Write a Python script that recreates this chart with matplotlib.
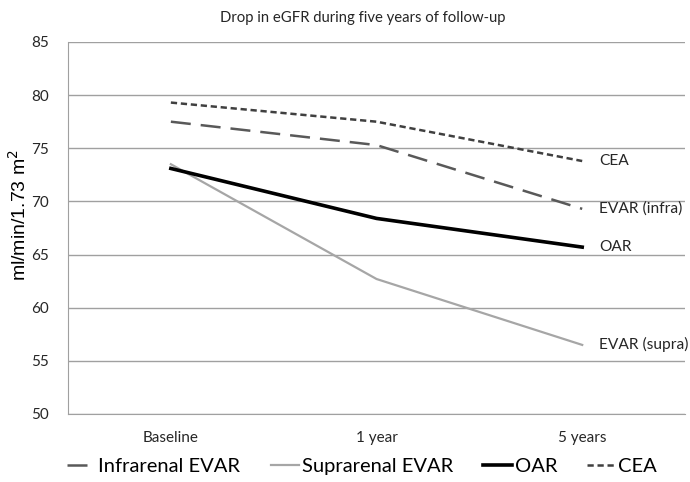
import matplotlib
matplotlib.use("Agg")
import matplotlib.pyplot as plt

plt.rcParams['font.family'] = ['Lato', 'DejaVu Sans']

# data
timepoints = ['Baseline', '1 year', '5 years']
infra_evar = [77.5, 75.3, 69.3]
supra_evar = [73.5, 62.7, 56.5]
oar = [73.1, 68.4, 65.7]
cea = [79.3, 77.5, 73.8]
end_labels = ['EVAR (infra)', 'EVAR (supra)', 'OAR', 'CEA']
legend_names = ['Infrarenal EVAR', 'Suprarenal EVAR', 'OAR', 'CEA']
yticks = [50, 55, 60, 65, 70, 75, 80, 85]

fig = plt.figure(figsize=(6.9, 4.82), dpi=100)
ax = fig.add_axes([0.0986, 0.1411, 0.8942, 0.7718])

x = list(range(len(timepoints)))
l1, = ax.plot(x, infra_evar, color='#595959', lw=1.8, dashes=(8, 4))
l2, = ax.plot(x, supra_evar, color='#a6a6a6', lw=1.6)
l3, = ax.plot(x, oar, color='black', lw=2.6)
l4, = ax.plot(x, cea, color='#404040', lw=1.8, dashes=(2.5, 1.5))

for series, name in zip([infra_evar, supra_evar, oar, cea], end_labels):
    ax.annotate(name, xy=(x[-1], series[-1]), xytext=(12, 0),
                textcoords='offset points', va='center', ha='left',
                fontsize=11.2, color='#262626', annotation_clip=False)

ax.set_xlim(-0.5, 2.5)
ax.set_ylim(50, 85)
ax.set_yticks(yticks)
ax.set_xticks(x)
ax.set_xticklabels(timepoints)
ax.tick_params(axis='both', length=0, labelsize=11, colors='#262626')
ax.tick_params(axis='y', pad=14)
ax.tick_params(axis='x', pad=12)
ax.grid(axis='y', color='#a0a0a0', lw=1)
ax.set_axisbelow(True)
for s in ['top', 'right']:
    ax.spines[s].set_visible(False)
ax.spines['left'].set_color('#a0a0a0')
ax.spines['bottom'].set_color('#a0a0a0')

fig.text(0.525, 0.963, 'Drop in eGFR during five years of follow-up',
         ha='center', va='center', fontsize=10.7, color='#262626')
fig.text(0.028, 0.554, 'ml/min/1.73 m$^2$', rotation=90, ha='center',
         va='center', fontsize=14, color='black', family='Liberation Sans')

fig.legend([l1, l2, l3, l4], legend_names, loc='center',
           bbox_to_anchor=(0.525, 0.033), ncol=4, frameon=False,
           fontsize=14.5, handlelength=1.4, handletextpad=0.15,
           columnspacing=1.5)

fig.savefig('out.png', dpi=100)
